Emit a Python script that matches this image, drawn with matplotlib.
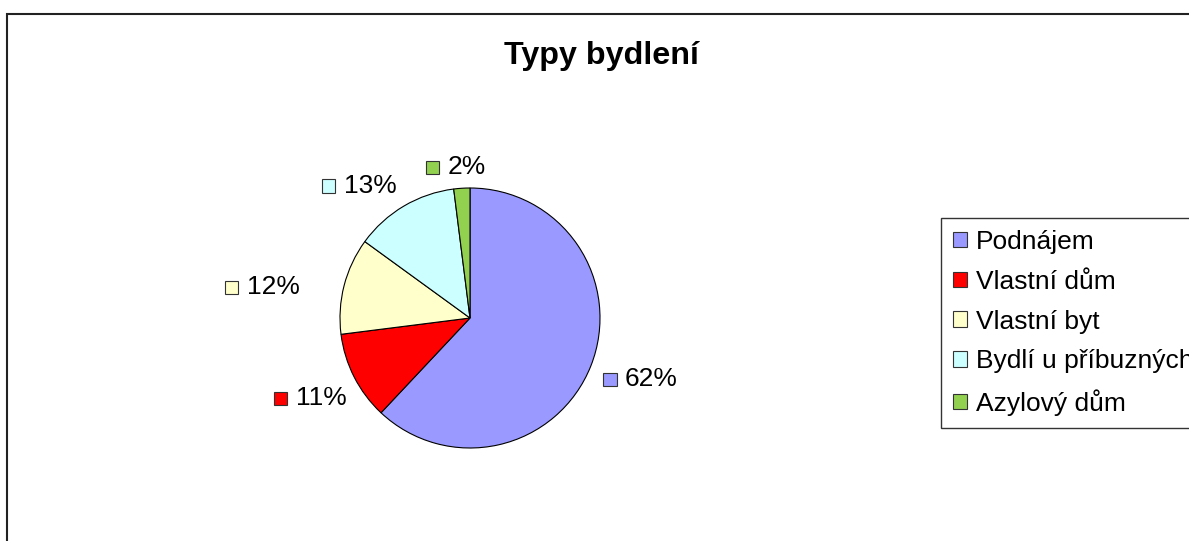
import matplotlib
matplotlib.use("Agg")
import matplotlib.pyplot as plt
import numpy as np
from matplotlib.patches import Rectangle, Patch
from matplotlib.offsetbox import DrawingArea, TextArea, HPacker, AnnotationBbox

plt.rcParams['font.family'] = ['Liberation Sans', 'DejaVu Sans']

title = "Typy bydlení"
categories = ["Podnájem", "Vlastní dům", "Vlastní byt", "Bydlí u příbuzných", "Azylový dům"]
values = [62, 11, 12, 13, 2]
colors = ["#9999FF", "#FF0000", "#FFFFCC", "#CCFFFF", "#92D050"]
# layout: nudges of the percentage labels (pixels, x right / y down)
label_nudge = [(3, 4), (0, 10), (-33, 8), (-19, 1), (-3, 4)]

W, H = 1189, 541
fig = plt.figure(figsize=(W / 100, H / 100), dpi=100)
fig.patch.set_facecolor("white")

# outer chart frame (cut off at right and bottom)
fig.add_artist(Rectangle((7 / W, -0.1), 1.2, 1 - 14 / H + 0.1, transform=fig.transFigure,
                         fill=False, edgecolor="#222222", linewidth=1.5))

cx, cy, R = 470, H - 318, 130
ax = fig.add_axes([(cx - R) / W, (cy - R) / H, 2 * R / W, 2 * R / H])
wedges, _ = ax.pie(values, colors=colors, startangle=90, counterclock=False,
                   wedgeprops=dict(edgecolor="black", linewidth=0.8), radius=1)
ax.set_xlim(-1, 1)
ax.set_ylim(-1, 1)
ax.set_aspect("auto")
ax.axis("off")

total = sum(values)
fs = 19
for w, v, col, (nx, ny) in zip(wedges, values, colors, label_nudge):
    mid = np.deg2rad((w.theta1 + w.theta2) / 2)
    c, s = np.cos(mid), np.sin(mid)
    x, y = 1.1 * c + nx / R, 1.1 * s - ny / R
    da = DrawingArea(10, 10, 0, 0)
    da.add_artist(Rectangle((0, 0), 9.5, 9.5, facecolor=col, edgecolor="#333333", linewidth=0.8))
    ta = TextArea(f"{round(100 * v / total)}%", textprops=dict(fontsize=fs, color="black"))
    box = HPacker(children=[da, ta], sep=5.5, align="center", pad=0)
    ab = AnnotationBbox(box, (x, y), xycoords="data", frameon=False,
                        box_alignment=(0.5 - 0.5 * c, 0.5 - 0.5 * s), pad=0,
                        annotation_clip=False)
    ax.add_artist(ab)

fig.text(602 / W, 1 - 56 / H, title, fontsize=23.2, fontweight="bold",
         ha="center", va="center")

handles = [Patch(facecolor=c, edgecolor="#333333", linewidth=0.8) for c in colors]
leg = fig.legend(handles, categories, loc="upper left", bbox_to_anchor=(941 / W, 1 - 218 / H),
                 bbox_transform=fig.transFigure, fontsize=fs, frameon=True, fancybox=False,
                 edgecolor="black", borderaxespad=0, borderpad=0.45,
                 handlelength=0.53, handleheight=0.53, handletextpad=0.34, labelspacing=0.6)
leg.get_frame().set_linewidth(1.0)

fig.savefig("out.png", dpi=100)
